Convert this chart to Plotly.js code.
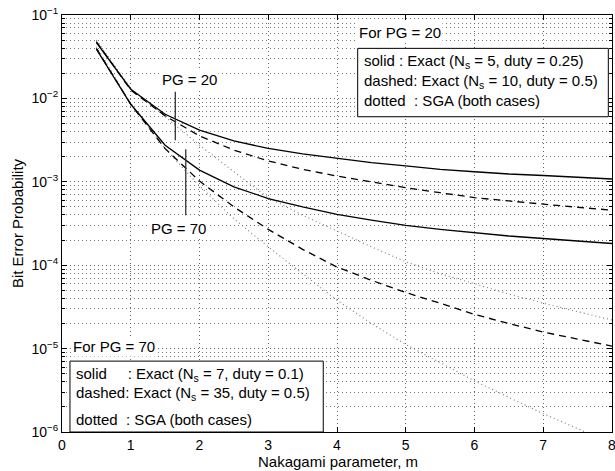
<!DOCTYPE html>
<html>
<head>
<meta charset="utf-8">
<script src="https://cdn.plot.ly/plotly-3.0.1.min.js"></script>
<style>html,body{margin:0;padding:0;background:#fff;}#chart{width:615px;height:471px;}</style>
</head>
<body>
<div id="chart"></div>
<script>
// Nakagami parameter m
const m = [0.5, 1, 1.5, 2, 2.5, 3, 3.5, 4, 4.5, 5, 5.5, 6, 6.5, 7, 7.5, 8];

// PG = 20
const pg20Solid  = [0.0468, 0.0129, 0.00646, 0.00417, 0.00309, 0.00251, 0.00216, 0.00191, 0.0017, 0.00155, 0.00141, 0.00132, 0.00124, 0.00119, 0.00113, 0.00108];
const pg20Dashed = [0.0479, 0.0126, 0.00617, 0.00355, 0.0024, 0.00178, 0.00141, 0.00117, 0.001, 0.00085, 0.00074, 0.000646, 0.000589, 0.000537, 0.000495, 0.000457];
const pg20SGA    = [0.0501, 0.0132, 0.00603, 0.00275, 0.00132, 0.000646, 0.000398, 0.000257, 0.000166, 0.00011, 7.9e-5, 6.0e-5, 4.5e-5, 3.5e-5, 2.75e-5, 2.2e-5];

// PG = 70
const pg70Solid  = [0.0389, 0.0085, 0.00275, 0.00138, 0.00087, 0.00063, 0.0005, 0.000407, 0.000347, 0.0003, 0.000269, 0.000245, 0.000224, 0.000209, 0.000195, 0.000182];
const pg70Dashed = [0.0398, 0.0085, 0.0025, 0.00102, 0.0005, 0.000269, 0.000155, 9.5e-5, 6.6e-5, 4.7e-5, 3.5e-5, 2.57e-5, 2.0e-5, 1.58e-5, 1.3e-5, 1.07e-5];
const pg70SGA    = [0.0417, 0.0087, 0.0025, 0.00089, 0.00036, 0.000166, 7.9e-5, 3.8e-5, 2.0e-5, 1.12e-5, 6.8e-6, 4.1e-6, 2.6e-6, 1.66e-6, 1.1e-6, 7.1e-7];

// pointer lines for the "PG = 20" and "PG = 70" labels
const pointer20X = [1.648, 1.648];
const pointer20Y = [0.0120, 0.00316];
const pointer70X = [1.80, 1.80];
const pointer70Y = [0.00245, 0.000398];

// y tick labels
const yTickVals = [1e-6, 1e-5, 1e-4, 1e-3, 1e-2, 1e-1];
const yTickText = ['10<sup>\u22126</sup>', '10<sup>\u22125</sup>', '10<sup>\u22124</sup>', '10<sup>\u22123</sup>', '10<sup>\u22122</sup>', '10<sup>\u22121</sup>'];

// texts
const xTitle = 'Nakagami parameter, m';
const yTitle = 'Bit Error Probability';
const nb = '\u00a0';
const upperHead = 'For PG = 20';
const upperLines = [
  'solid : Exact (N<sub>s</sub> = 5, duty = 0.25)',
  'dashed: Exact (N<sub>s</sub> = 10, duty = 0.5)',
  'dotted' + nb + ' : SGA (both cases)'
];
const lowerHead = 'For PG = 70';
const lowerLines = [
  'solid' + nb + nb + nb + nb + ' : Exact (N<sub>s</sub> = 7, duty = 0.1)',
  'dashed: Exact (N<sub>s</sub> = 35, duty = 0.5)',
  'dotted' + nb + ' : SGA (both cases)'
];

const solid = {color: '#000', width: 1.3};
const dashed = {color: '#000', width: 1.3, dash: '7px,5px'};
const dotted = {color: '#777', width: 1.1, dash: '1px,3px'};

const traces = [
  {x: m, y: pg20SGA, mode: 'lines', line: dotted},
  {x: m, y: pg70SGA, mode: 'lines', line: dotted},
  {x: m, y: pg20Dashed, mode: 'lines', line: dashed},
  {x: m, y: pg70Dashed, mode: 'lines', line: dashed},
  {x: m, y: pg20Solid, mode: 'lines', line: solid},
  {x: m, y: pg70Solid, mode: 'lines', line: solid},
  {x: pointer20X, y: pointer20Y, mode: 'lines', line: {color: '#333', width: 1.3}},
  {x: pointer70X, y: pointer70Y, mode: 'lines', line: {color: '#333', width: 1.3}}
];

const fam = 'Liberation Sans, Arial, Helvetica, sans-serif';
const font = {family: fam, size: 15, color: '#000'};
const tickFont = {family: fam, size: 14, color: '#000'};
const txt = (text, x, y, bg) => ({
  text: text, xref: 'paper', yref: 'paper', x: x, y: y,
  xanchor: 'left', yanchor: 'middle', showarrow: false,
  font: font, bgcolor: bg ? '#fff' : 'rgba(0,0,0,0)', borderpad: 1
});

const annotations = [
  txt(upperHead, 0.536, 0.957, true),
  txt(upperLines[0], 0.546, 0.888, false),
  txt(upperLines[1], 0.546, 0.840, false),
  txt(upperLines[2], 0.546, 0.796, false),
  txt(lowerHead, 0.016, 0.204, true),
  txt(lowerLines[0], 0.021, 0.139, false),
  txt(lowerLines[1], 0.021, 0.0928, false),
  txt(lowerLines[2], 0.021, 0.0288, false),
  Object.assign(txt('PG = 20', 0.2327, 0.8465, true), {xanchor: 'center'}),
  Object.assign(txt('PG = 70', 0.211, 0.487, true), {xanchor: 'center'}),
  Object.assign(txt(xTitle, 0.501, -0.0707, false), {xanchor: 'center', borderpad: 0})
];

const shapes = [
  {type: 'rect', xref: 'paper', yref: 'paper', x0: 0.5376, x1: 0.9933, y0: 0.756, y1: 0.920,
   fillcolor: '#fff', line: {color: '#000', width: 1}, layer: 'above'},
  {type: 'rect', xref: 'paper', yref: 'paper', x0: 0.0145, x1: 0.475, y0: 0.0, y1: 0.170,
   fillcolor: '#fff', line: {color: '#000', width: 1}, layer: 'above'}
];

const gridStyle = {showgrid: true, gridcolor: '#666', griddash: '1px,3px', gridwidth: 1};

const layout = {
  width: 615, height: 471,
  margin: {l: 62, r: 3, t: 15, b: 39},
  paper_bgcolor: '#fff', plot_bgcolor: '#fff',
  showlegend: false,
  font: font,
  xaxis: Object.assign({
    range: [0, 8], dtick: 1, tick0: 0,
    ticks: 'inside', ticklen: 5, tickcolor: '#000',
    showline: true, linecolor: '#000', linewidth: 1, mirror: 'ticks',
    zeroline: false, ticklabeloverflow: 'allow',
    tickfont: tickFont
  }, gridStyle),
  yaxis: Object.assign({
    type: 'log', range: [-6, -1],
    tickmode: 'array', tickvals: yTickVals, ticktext: yTickText,
    ticks: 'inside', ticklen: 5, tickcolor: '#000',
    showline: true, linecolor: '#000', linewidth: 1, mirror: 'ticks',
    minor: {dtick: 'D1', ticks: 'inside', ticklen: 3, tickcolor: '#000',
            showgrid: true, gridcolor: '#777', griddash: '1px,3px', gridwidth: 1},
    zeroline: false, ticklabeloverflow: 'allow',
    tickfont: tickFont,
    title: {text: yTitle, font: font, standoff: 4}
  }, gridStyle),
  annotations: annotations,
  shapes: shapes
};

Plotly.newPlot('chart', traces, layout, {displayModeBar: false, staticPlot: true});
</script>
</body>
</html>
